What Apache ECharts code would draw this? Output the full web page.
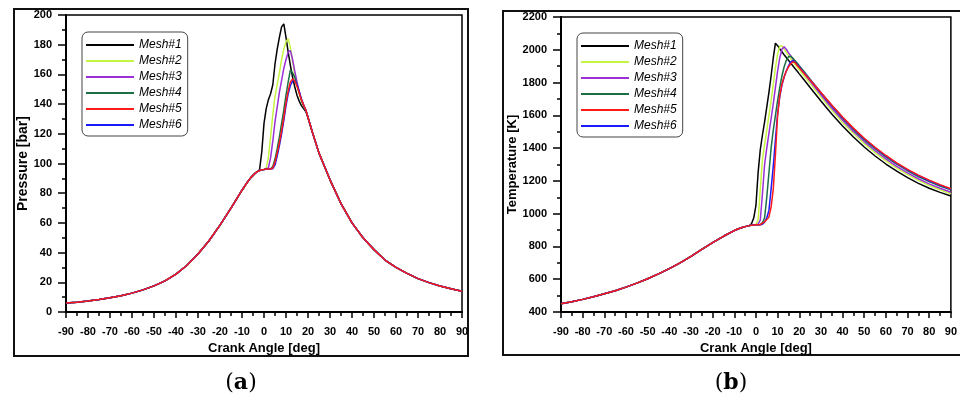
<!DOCTYPE html>
<html>
<head>
<meta charset="utf-8">
<script src="https://cdn.jsdelivr.net/npm/echarts@6/dist/echarts.min.js"></script>
<style>
html,body{margin:0;padding:0;background:#fff;}
#chart{width:960px;height:396px;}
</style>
</head>
<body>
<div id="chart"></div>
<script>
// ---------- DATA ----------
const meshNames = ['Mesh#1', 'Mesh#2', 'Mesh#3', 'Mesh#4', 'Mesh#5', 'Mesh#6'];
const meshColors = ['#000000', '#c4f542', '#9a30d6', '#1d6e45', '#ff1a1a', '#1a1aff'];

// crank angle samples [deg]
const angles = [-90,-85,-80,-75,-70,-65,-60,-55,-50,-45,-40,-35,-30,-25,-20,-15,-10,-8,-6,-5,-4,
  -3,-2,-1,0,1,2,3,4,5,6,7,8,9,10,11,12,13,14,15,16,17,18,19,20,
  22,25,30,35,40,45,50,55,60,65,70,75,80,85,90];

// Pressure [bar]: shared compression (-90..-4), per-mesh (-3..20), shared expansion (22..90)
const pressureCompression = [6,6.6,7.4,8.4,9.6,11,12.7,14.9,17.6,21,25.5,31.5,39,48,58.5,70,82,86.5,90.5,92,93.5];
const pressureMesh1 = [94.5,96,108,127,137,143,147,153,167,177,185,192,194,185,175,166,158,151.5,146,142,139,137,135,131];
const pressureMesh2 = [94.5,95.3,95.8,96,97,104,118,133,145,153,161,170,177,182,184,178,169,160,153,147,142,138.5,136,131];
const pressureMesh3 = [94.5,95.3,95.8,96,96.3,97,104,115,128,138,148,156,164,170,175,176,170,162,155,148.5,143,139,136,131];
const pressureMesh4 = [94.5,95.3,95.8,96,96.3,96.3,96.5,98,103,110,118,127,136,146,155,163,161,158,153,148,143,139,136,131];
const pressureMesh5 = [94.5,95.3,95.8,96,96.3,96.3,96.3,97,101,107,114,122,131,141,149,155,157,155.5,152,147.5,143,139.5,136,131];
const pressureMesh6 = [94.5,95.3,95.8,96,96.3,96.3,96.3,96.5,99,105,112,120,129,139,147,152.5,155.5,156,153,148.5,143.5,139.5,136,131];
const pressureExpansion = [121,107,89,73,60,50,42,35,30,26,22.5,19.8,17.5,15.6,14];

// Temperature [K]: shared compression (-90..-4), per-mesh (-3..90)
const temperatureCompression = [450,462,477,493,511,530,552,576,603,633,665,700,740,782,823,862,897,908,917,921,924];
const temperatureMesh1 = [928,940,975,1050,1250,1390,1480,1560,1650,1740,1840,1950,2040,2025,2005,1988,1970,1953,1936,1920,1903,1886,1870,1853,
  1820,1770,1688,1608,1535,1468,1407,1352,1303,1259,1220,1185,1155,1130,1108];
const temperatureMesh2 = [927,929,931,935,960,1150,1330,1420,1510,1600,1690,1790,1890,1975,2022,2024,2005,1985,1966,1948,1930,1912,1895,1878,
  1845,1795,1712,1632,1557,1489,1427,1372,1322,1278,1238,1203,1172,1146,1122];
const temperatureMesh3 = [927,929,931,932,936,960,1120,1300,1400,1490,1580,1670,1770,1870,1950,2003,2019,2003,1983,1964,1945,1927,1910,1893,
  1860,1810,1726,1645,1570,1501,1440,1384,1334,1289,1249,1213,1182,1155,1131];
const temperatureMesh4 = [927,929,931,932,933,934,945,975,1100,1250,1400,1510,1600,1690,1770,1840,1895,1935,1957,1961,1950,1935,1919,1903,
  1870,1821,1738,1658,1582,1513,1452,1397,1347,1302,1262,1227,1196,1169,1145];
const temperatureMesh5 = [927,929,931,932,933,933,942,950,965,980,1040,1150,1360,1600,1720,1790,1835,1870,1895,1913,1926,1922,1906,1890,
  1860,1815,1740,1663,1590,1522,1460,1405,1355,1310,1270,1235,1205,1177,1152];
const temperatureMesh6 = [927,929,931,932,933,933,936,948,975,1020,1150,1290,1450,1610,1715,1785,1832,1870,1900,1925,1933,1925,1910,1895,
  1863,1817,1738,1660,1587,1518,1457,1402,1352,1307,1267,1232,1201,1174,1149];

const pressureTicks = {min: 0, max: 200, interval: 20};
const temperatureTicks = {min: 400, max: 2200, interval: 200};
const angleTicks = {min: -90, max: 90, interval: 10};

// ---------- BUILD ----------
const pressureMeshes = [pressureMesh1, pressureMesh2, pressureMesh3, pressureMesh4, pressureMesh5, pressureMesh6]
  .map(m => pressureCompression.concat(m, pressureExpansion));
const temperatureMeshes = [temperatureMesh1, temperatureMesh2, temperatureMesh3, temperatureMesh4, temperatureMesh5, temperatureMesh6]
  .map(m => temperatureCompression.concat(m));

const FONT = '"Liberation Sans", Arial, sans-serif';

function xAxisCfg(gridIndex) {
  return {
    gridIndex, type: 'value', min: angleTicks.min, max: angleTicks.max, interval: angleTicks.interval,
    axisLine: {onZero: false, lineStyle: {color: '#000', width: 2}},
    axisTick: {show: true, inside: false, length: 6, lineStyle: {color: '#000', width: 1.5}},
    minorTick: {show: true, splitNumber: 2, length: 4, lineStyle: {color: '#000', width: 1.5}},
    splitLine: {show: false},
    axisLabel: {color: '#000', fontWeight: 'bold', fontSize: 11, fontFamily: FONT, margin: 14,
      showMinLabel: true, showMaxLabel: true, formatter: v => String(v)},
    name: 'Crank Angle [deg]', nameLocation: 'middle', nameGap: 28,
    nameTextStyle: {color: '#000', fontWeight: 'bold', fontSize: 13, fontFamily: FONT}
  };
}
function yAxisCfg(gridIndex, ticks, name, nameGap, nameSize) {
  return {
    gridIndex, type: 'value', min: ticks.min, max: ticks.max, interval: ticks.interval,
    axisLine: {onZero: false, lineStyle: {color: '#000', width: 2}},
    axisTick: {show: true, inside: false, length: 8, lineStyle: {color: '#000', width: 1.5}},
    minorTick: {show: true, splitNumber: 2, length: 4, lineStyle: {color: '#000', width: 1.5}},
    splitLine: {show: false},
    axisLabel: {color: '#000', fontWeight: 'bold', fontSize: 11, fontFamily: FONT, margin: 14, formatter: v => String(v)},
    name, nameLocation: 'middle', nameGap,
    nameTextStyle: {color: '#000', fontWeight: 'bold', fontSize: nameSize, fontFamily: FONT}
  };
}
function legendCfg(left, top) {
  return {
    orient: 'vertical', left, top, data: meshNames,
    icon: 'rect', itemWidth: 48, itemHeight: 2, itemGap: 2,
    padding: [6, 6, 4, 4],
    borderColor: '#444', borderWidth: 1, borderRadius: 6,
    textStyle: {color: '#000', fontStyle: 'italic', fontSize: 12, fontFamily: FONT, lineHeight: 14},
    selectedMode: false
  };
}

const series = [];
meshNames.forEach((name, k) => {
  const common = {
    name, type: 'line', symbol: 'none', showSymbol: false, smooth: false,
    lineStyle: {color: meshColors[k], width: 1.5}, itemStyle: {color: meshColors[k]},
    z: k === 4 ? 4 : 2, animation: false
  };
  series.push(Object.assign({}, common, {xAxisIndex: 0, yAxisIndex: 0,
    data: angles.map((a, i) => [a, pressureMeshes[k][i]])}));
  series.push(Object.assign({}, common, {xAxisIndex: 1, yAxisIndex: 1,
    data: angles.map((a, i) => [a, temperatureMeshes[k][i]])}));
});

const option = {
  animation: false,
  backgroundColor: '#fff',
  grid: [
    {left: 66, top: 15, width: 396, height: 297, show: true, borderColor: '#000', borderWidth: 1.5},
    {left: 561, top: 17, width: 393, height: 295, show: true, borderColor: '#000', borderWidth: 1.5}
  ],
  xAxis: [xAxisCfg(0), xAxisCfg(1)],
  yAxis: [
    yAxisCfg(0, pressureTicks, 'Pressure [bar]', 36, 14),
    yAxisCfg(1, temperatureTicks, 'Temperature [K]', 41, 13)
  ],
  legend: [legendCfg(82, 32), legendCfg(577, 33)],
  series,
  graphic: [
    {type: 'rect', shape: {x: 14, y: 9, width: 454, height: 347}, style: {fill: 'none', stroke: '#111', lineWidth: 2}, silent: true},
    {type: 'rect', shape: {x: 503, y: 11, width: 470, height: 344}, style: {fill: 'none', stroke: '#111', lineWidth: 2}, silent: true},
    {type: 'text', x: 241, y: 383, silent: true,
      style: {text: '{p|(}{b|a}{p|)}', align: 'center', verticalAlign: 'middle',
        rich: {p: {fontFamily: '"DejaVu Serif", serif', fontSize: 22, fill: '#000'},
               b: {fontFamily: '"DejaVu Serif", serif', fontSize: 22, fontWeight: 'bold', fill: '#000'}}}},
    {type: 'text', x: 731, y: 383, silent: true,
      style: {text: '{p|(}{b|b}{p|)}', align: 'center', verticalAlign: 'middle',
        rich: {p: {fontFamily: '"DejaVu Serif", serif', fontSize: 22, fill: '#000'},
               b: {fontFamily: '"DejaVu Serif", serif', fontSize: 22, fontWeight: 'bold', fill: '#000'}}}}
  ]
};

const chart = echarts.init(document.getElementById('chart'), null, {renderer: 'canvas'});
chart.setOption(option);
</script>
</body>
</html>
